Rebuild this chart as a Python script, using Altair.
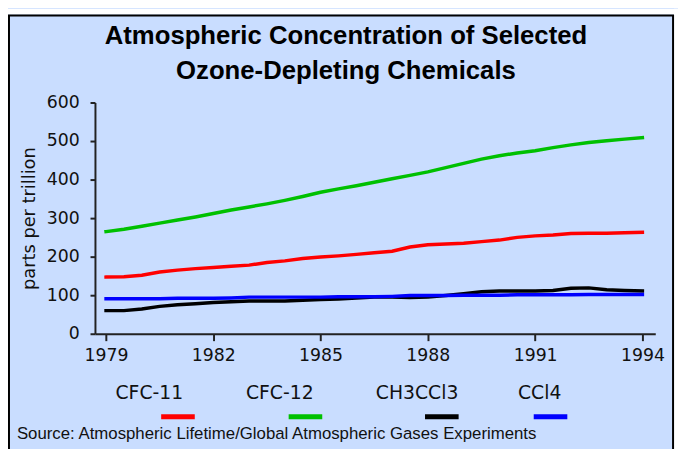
import altair as alt
import pandas as pd

# ---------------- data ----------------
years = [1979.0, 1979.5, 1980.0, 1980.5, 1981.0, 1981.5, 1982.0, 1982.5,
         1983.0, 1983.5, 1984.0, 1984.5, 1985.0, 1985.5, 1986.0, 1986.5,
         1987.0, 1987.5, 1988.0, 1988.5, 1989.0, 1989.5, 1990.0, 1990.5,
         1991.0, 1991.5, 1992.0, 1992.5, 1993.0, 1993.5, 1994.0]

cfc11 = [147, 148, 152, 160, 165, 169, 172, 175, 178, 185, 189, 195, 199, 202,
         206, 210, 214, 225, 231, 233, 235, 239, 243, 250, 254, 256, 260, 261,
         261, 262, 263]
cfc12 = [265, 271, 279, 287, 295, 303, 312, 321, 329, 337, 346, 356, 367, 376,
         384, 393, 402, 411, 420, 431, 442, 453, 462, 469, 475, 483, 490, 496,
         501, 505, 509]
ch3ccl3 = [60, 60, 64, 71, 75, 78, 81, 83, 85, 85, 85, 87, 89, 90, 93, 95, 95,
           94, 95, 99, 104, 109, 111, 111, 111, 112, 118, 119, 114, 112, 111]
ccl4 = [91, 91, 91, 91, 92, 92, 92, 93, 95, 95, 95, 95, 95, 96, 96, 96, 97, 99,
        99, 99, 100, 100, 100, 101, 101, 101, 101, 102, 102, 102, 102]

series = ["CFC-11", "CFC-12", "CH3CCl3", "CCl4"]
colors = ["#FF0000", "#00C000", "#000000", "#0000FF"]

title_lines = ["Atmospheric Concentration of Selected", "Ozone-Depleting Chemicals"]
y_title = "parts per trillion"
source_text = ["Source: Atmospheric Lifetime/Global Atmospheric Gases Experiments"]
x_ticks = [1979, 1982, 1985, 1988, 1991, 1994]
y_ticks = [0, 100, 200, 300, 400, 500, 600]

# ---------------- build tables ----------------
rows = []
for name, vals in zip(series, [cfc11, cfc12, ch3ccl3, ccl4]):
    for t, v in zip(years, vals):
        rows.append({"year": t, "ppt": v, "series": name})
df = pd.DataFrame(rows)

leg_df = pd.DataFrame({"series": series, "idx": list(range(len(series)))})
title_df = pd.DataFrame({"line": title_lines, "idx": list(range(len(title_lines)))})

W, H = 567, 234
PAD_L, PAD_T, PAD_R, PAD_B = 88, 93, 23, 114
BG = "#C9DDFF"
FONT = "Liberation Sans"
AXFONT = "DejaVu Sans"

color_scale = alt.Scale(domain=series, range=colors)
one = pd.DataFrame({"k": [0]})

top_strip = alt.Chart(one).mark_rect(fill="#FFFFFF").encode(
    x=alt.value(-PAD_L - 2), x2=alt.value(W + PAD_R + 10),
    y=alt.value(-PAD_T - 2), y2=alt.value(-PAD_T + 4),
)
right_strip = alt.Chart(one).mark_rect(fill="#FFFFFF").encode(
    x=alt.value(682 - 96), x2=alt.value(W + PAD_R + 10),
    y=alt.value(-PAD_T - 2), y2=alt.value(H + PAD_B + 10),
)
frame = alt.Chart(one).mark_rect(
    fillOpacity=0, stroke="#000000", strokeWidth=2
).encode(
    x=alt.value(-PAD_L + 1), x2=alt.value(681 - 96),
    y=alt.value(-PAD_T + 5), y2=alt.value(H + PAD_B + 10),
)

title_mark = alt.Chart(title_df).mark_text(
    font=FONT, fontSize=26, fontWeight="bold", color="#000000", baseline="alphabetic"
).encode(
    x=alt.value(350 - 96),
    y=alt.Y("idx:Q", scale=alt.Scale(domain=[0, 1], range=[42 - 101, 77 - 101]),
            axis=None),
    text="line:N",
)

lines = alt.Chart(df).mark_line(strokeWidth=3.5, strokeCap="square").encode(
    x=alt.X("year:Q",
            scale=alt.Scale(domain=[1978.69, 1994.36], nice=False, zero=False),
            axis=alt.Axis(values=x_ticks, format="d", title=None,
                          tickSize=7, labelPadding=6)),
    y=alt.Y("ppt:Q",
            scale=alt.Scale(domain=[0, 600], nice=False),
            axis=alt.Axis(values=y_ticks, title=y_title, tickSize=5,
                          labelPadding=11, titleAngle=-90, titleX=-66,
                          titleY=H / 2, titleAlign="center",
                          titleBaseline="middle", titleFont=AXFONT,
                          titleFontSize=18, titleFontWeight="normal",
                          titleColor="#111111")),
    color=alt.Color("series:N", scale=color_scale, legend=None),
)

leg_text = alt.Chart(leg_df).mark_text(
    font=AXFONT, fontSize=19, color="#111111", baseline="middle"
).encode(
    x=alt.X("idx:Q", scale=alt.Scale(domain=[0, 1, 2, 3], range=[151 - 96, 283 - 96, 422 - 96, 546 - 96]),
            axis=None),
    y=alt.value(395 - 101),
    text="series:N",
)

leg_sw = alt.Chart(leg_df).mark_tick(orient="horizontal", size=34, thickness=5,
                                      opacity=1).encode(
    x=alt.X("idx:Q", scale=alt.Scale(domain=[0, 1, 2, 3], range=[84, 213, 351, 461]),
            axis=None),
    y=alt.value(419 - 101),
    color=alt.Color("series:N", scale=color_scale, legend=None),
)

src = alt.Chart(pd.DataFrame({"t": source_text})).mark_text(
    font=FONT, fontSize=17, color="#111111", align="left", baseline="middle"
).encode(
    x=alt.value(17 - 96),
    y=alt.value(437 - 101),
    text="t:N",
)

chart = alt.layer(lines, top_strip, right_strip, frame, title_mark, leg_text,
                  leg_sw, src).resolve_scale(
    x="independent", y="independent"
).properties(
    width=W, height=H,
    padding={"left": PAD_L, "top": PAD_T, "right": PAD_R, "bottom": PAD_B},
    autosize=alt.AutoSizeParams(type="none"),
    background=BG,
).configure_view(stroke=None).configure_axis(
    grid=False, domainColor="#222222", domainWidth=2, tickColor="#222222",
    tickWidth=2, labelFont=AXFONT, labelFontSize=17.5, labelColor="#111111",
)

chart.save("out.html", embed_options={"renderer": "svg", "actions": False})
